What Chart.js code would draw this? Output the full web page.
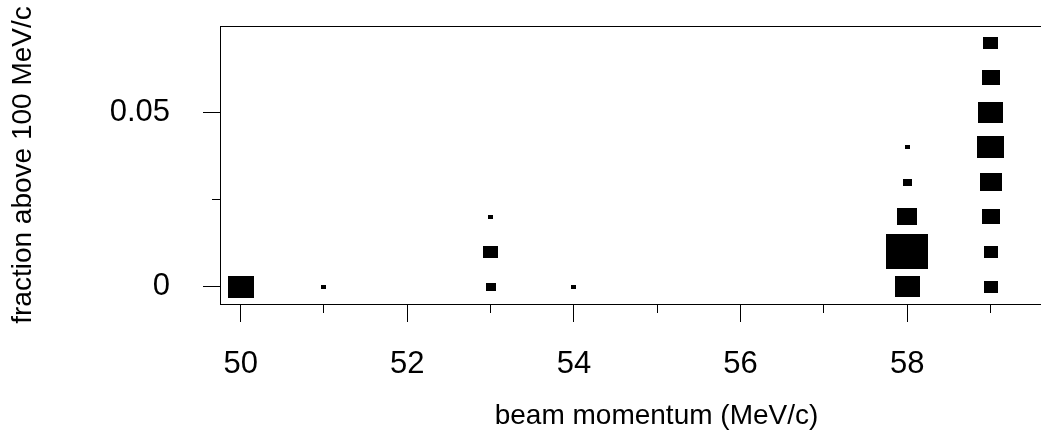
<!DOCTYPE html>
<html>
<head>
<meta charset="utf-8">
<script src="https://cdn.jsdelivr.net/npm/chart.js@4"></script>
<style>
html, body { margin: 0; padding: 0; background: #fff; overflow: hidden; }
#wrap { width: 1041px; height: 433px; overflow: hidden; }
#chart { display: block; }
</style>
</head>
<body>
<div id="wrap"><canvas id="chart" width="1100" height="433"></canvas></div>
<script>
// beam momentum (MeV/c), fraction above 100 MeV/c, and relative box weight
const momentum = [50, 51, 53, 53, 53, 54, 58, 58, 58, 58, 58, 59, 59, 59, 59, 59, 59, 59, 59];
const fraction = [0, 0, 0, 0.01, 0.02, 0, 0, 0.01, 0.02, 0.03, 0.04, 0, 0.01, 0.02, 0.03, 0.04, 0.05, 0.06, 0.07];
const weight = [5.5, 1, 2.2, 3.25, 1, 1.05, 5.3, 8.9, 4.3, 1.85, 1.05, 3.05, 3.05, 3.9, 4.75, 5.7, 5.4, 3.9, 3.1];

const xMajorTicks = [50, 52, 54, 56, 58];
const xMinorTicks = [51, 53, 55, 57, 59];
const yMajorTicks = [0, 0.05];
const yMinorTicks = [0.025];

const X_MIN = 49.752, X_MAX = 60.23;
const Y_MIN = -0.00496, Y_MAX = 0.07474;

const family = "'Liberation Sans', Arial, Helvetica, sans-serif";

// black boxes, a bit wider than tall like the original device
const boxCache = {};
function boxFor(w) {
    const bw = Math.max(2, Math.round(w * 4.7));
    const bh = Math.max(2, Math.round(bw * 0.83));
    const key = bw + 'x' + bh;
    if (!boxCache[key]) {
        const c = document.createElement('canvas');
        c.width = bw;
        c.height = bh;
        const g = c.getContext('2d');
        g.fillStyle = '#000';
        g.fillRect(0, 0, bw, bh);
        boxCache[key] = c;
    }
    return boxCache[key];
}

function fixTicks(list) {
    return axis => { axis.ticks = list.map(v => ({ value: v })); };
}

// force box sizes and drop the label overhang padding
function fitH(h) {
    return a => { a.height = h; a.paddingLeft = 0; a.paddingRight = 0; };
}
function fitW(w) {
    return a => { a.width = w; a.paddingTop = 0; a.paddingBottom = 0; };
}

const points = momentum.map((m, i) => ({ x: m, y: fraction[i] }));

new Chart(document.getElementById('chart').getContext('2d'), {
    type: 'scatter',
    data: {
        datasets: [{
            data: points,
            xAxisID: 'x',
            yAxisID: 'y',
            pointStyle: ctx => boxFor(weight[ctx.dataIndex]),
            pointRadius: 3,
            clip: false
        }]
    },
    options: {
        responsive: false,
        animation: false,
        // plot region runs past the right edge of the picture
        layout: { padding: { top: 26, right: 7, left: 0, bottom: 0 } },
        plugins: { legend: { display: false }, tooltip: { enabled: false } },
        scales: {
            x: {
                type: 'linear', position: 'bottom', weight: 1,
                min: X_MIN, max: X_MAX,
                afterBuildTicks: fixTicks(xMajorTicks),
                afterFit: fitH(129),
                grid: { drawOnChartArea: false, drawTicks: true, tickLength: 18, color: '#000', lineWidth: 1 },
                border: { display: true, color: '#000', width: 1 },
                ticks: {
                    autoSkip: false, maxRotation: 0, padding: 24, color: '#000',
                    font: { family: family, size: 31 },
                    callback: v => String(v)
                },
                title: {
                    display: true, text: 'beam momentum (MeV/c)', color: '#000',
                    font: { family: family, size: 28 },
                    padding: { top: 0, bottom: 0 }
                }
            },
            xMinor: {
                type: 'linear', position: 'bottom', weight: 0,
                min: X_MIN, max: X_MAX,
                afterBuildTicks: fixTicks(xMinorTicks),
                afterFit: fitH(0),
                grid: { drawOnChartArea: false, drawTicks: true, tickLength: 9, color: '#000', lineWidth: 1 },
                border: { display: false },
                ticks: { display: false }
            },
            xTop: {
                type: 'linear', position: 'top',
                min: X_MIN, max: X_MAX,
                afterFit: fitH(0),
                grid: { display: false },
                border: { display: true, color: '#000', width: 1 },
                ticks: { display: false }
            },
            y: {
                type: 'linear', position: 'left', weight: 1,
                min: Y_MIN, max: Y_MAX,
                afterBuildTicks: fixTicks(yMajorTicks),
                afterFit: fitW(220),
                grid: { drawOnChartArea: false, drawTicks: true, tickLength: 17, color: '#000', lineWidth: 1 },
                border: { display: true, color: '#000', width: 1 },
                ticks: {
                    padding: 33, color: '#000',
                    font: { family: family, size: 31 },
                    callback: v => String(v)
                },
                title: {
                    display: true, text: 'fraction above 100 MeV/c', color: '#000',
                    font: { family: family, size: 28 },
                    padding: { top: 6, bottom: 0 }
                }
            },
            yMinor: {
                type: 'linear', position: 'left', weight: 0,
                min: Y_MIN, max: Y_MAX,
                afterBuildTicks: fixTicks(yMinorTicks),
                afterFit: fitW(0),
                grid: { drawOnChartArea: false, drawTicks: true, tickLength: 8, color: '#000', lineWidth: 1 },
                border: { display: false },
                ticks: { display: false }
            }
        }
    }
});
</script>
</body>
</html>
